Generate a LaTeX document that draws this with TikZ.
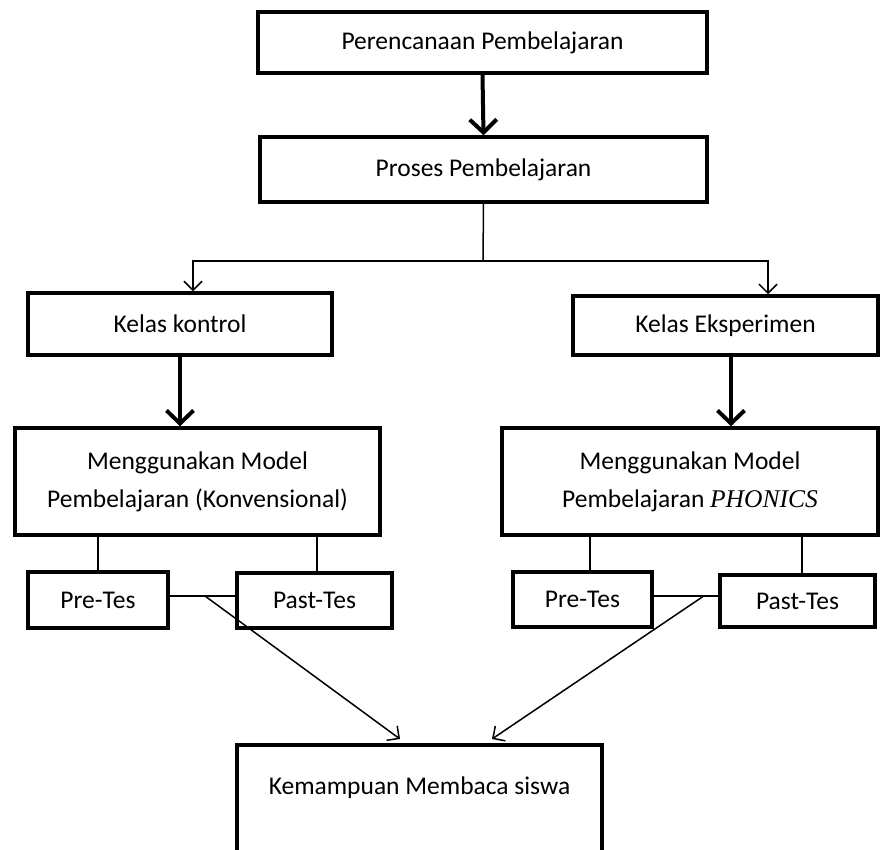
\documentclass[tikz,border=0pt]{standalone}
\usepackage{fontspec}
\setmainfont{Carlito}
\newfontfamily\phonicsfont{Liberation Serif}
\usetikzlibrary{arrows.meta,positioning,calc}

\tikzset{
  box/.style={draw, line width=3.5pt, rectangle, inner sep=2pt, align=center,
    font=\fontsize{25.5}{38}\selectfont},
  thickarrow/.style={line width=4pt, -{Straight Barb[length=13pt,width=27pt]}},
  thinarrow/.style={line width=1.5pt, -{Straight Barb[length=9pt,width=18pt]}},
  thinline/.style={line width=1.5pt}
}

\begin{document}
\begin{tikzpicture}[x=1pt, y=-1pt]
  \useasboundingbox (0,0) rectangle (881,849);
  \clip (0,0) rectangle (881,849);

  % top of the flow
  \node[box, minimum width=449pt, minimum height=61pt] (plan) at (482.5, 42.5) {Perencanaan Pembelajaran};
  \node[box, minimum width=447pt, minimum height=65pt] (proses) at (483.5, 169.5) {Proses Pembelajaran};
  \draw[thickarrow] (plan.south) -- (proses.north);

  % the two classes
  \node[box, minimum width=304pt, minimum height=62pt] (kontrol) at (180, 324) {Kelas kontrol};
  \node[box, minimum width=305pt, minimum height=59pt] (eksperimen) at (725.5, 325.5) {Kelas Eksperimen};
  \coordinate (split) at (483, 261);
  \draw[thinline] (proses.south) -- (split);
  \draw[thinarrow] (split) -| ([xshift=13pt]kontrol.north);
  \draw[thinarrow] (split) -| ([xshift=42.5pt]eksperimen.north);

  % models
  \node[box, minimum width=365pt, minimum height=107pt] (modelK) at (197.5, 481.5)
    {Menggunakan Model\\Pembelajaran (Konvensional)};
  \node[box, minimum width=376pt, minimum height=107pt] (modelP) at (690, 481.5)
    {Menggunakan Model\\Pembelajaran {\phonicsfont\itshape PHONICS}};
  \draw[thickarrow] (kontrol.south) -- (kontrol.south |- modelK.north);
  \draw[thickarrow] ([xshift=5.5pt]eksperimen.south) -- ([xshift=5.5pt]eksperimen.south |- modelP.north);

  % tests
  \node[box, minimum width=140pt, minimum height=56pt] (preK) at (98, 600) {Pre-Tes};
  \node[box, minimum width=155pt, minimum height=55pt] (pastK) at (314.5, 600.5) {Past-Tes};
  \node[box, minimum width=139pt, minimum height=55pt] (preP) at (582.5, 599.5) {Pre-Tes};
  \node[box, minimum width=155pt, minimum height=52pt] (pastP) at (797.5, 601) {Past-Tes};
  \draw[thinline] (preK.north |- modelK.south) -- (preK.north);
  \draw[thinline] ([xshift=2.5pt]pastK.north |- modelK.south) -- ([xshift=2.5pt]pastK.north);
  \draw[thinline] ([xshift=7.5pt]preP.north |- modelP.south) -- ([xshift=7.5pt]preP.north);
  \draw[thinline] ([xshift=4.5pt]pastP.north |- modelP.south) -- ([xshift=4.5pt]pastP.north);
  \draw[thinline] ([yshift=4pt]preK.east) -- ([yshift=4pt]preK.east -| pastK.west);
  \draw[thinline] ([yshift=3.5pt]preP.east) -- ([yshift=3.5pt]preP.east -| pastP.west);

  % result
  \node[box, anchor=north, minimum width=365pt, inner sep=0pt, text height=50pt, text depth=80pt]
    (kemampuan) at (419.5, 743) {Kemampuan Membaca siswa};
  \coordinate (joinK) at (205, 596);
  \coordinate (joinP) at (703, 596.5);
  \draw[thinarrow] (joinK) -- ([xshift=-19.5pt, yshift=4pt]kemampuan.north);
  \draw[thinarrow] (joinP) -- ([xshift=72.5pt, yshift=4pt]kemampuan.north);
\end{tikzpicture}
\end{document}
